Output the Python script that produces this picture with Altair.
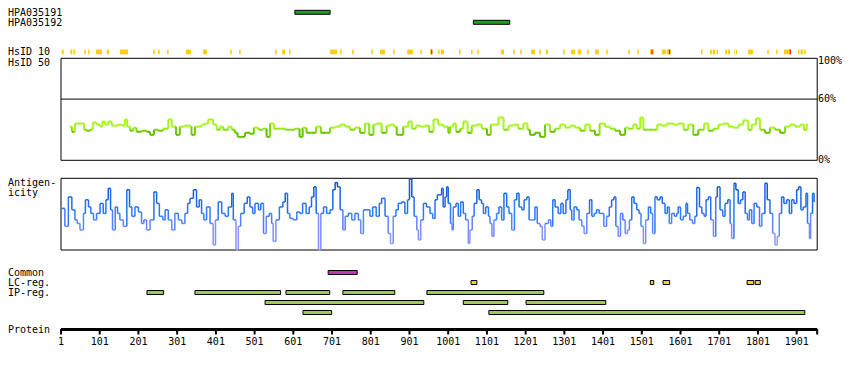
import altair as alt
import pandas as pd

PROTEIN_LEN = 1954
TICKS = list(range(1, 1902, 100))

# antibody antigen regions (residues)
ab_names = ["HPA035191", "HPA035192"]
ab_start = [605, 1066]
ab_end = [696, 1160]

# HsID 10 identity ticks (residues)
h10_y_start = [3, 25, 33, 61, 71, 91, 119, 153, 239, 252,
               275, 324, 368, 438, 461, 554, 572, 590, 696, 722,
               753, 802, 825, 859, 895, 929, 954, 975, 982, 1029,
               1060, 1076, 1137, 1169, 1187, 1215, 1236, 1253, 1298, 1318,
               1336, 1360, 1380, 1409, 1466, 1489, 1522, 1553, 1566, 1654,
               1677, 1684, 1694, 1716, 1723, 1739, 1744, 1775, 1825, 1848,
               1868, 1904, 1911, 1920]
h10_y_end = [8, 30, 37, 65, 75, 107, 125, 174, 243, 256,
             279, 337, 378, 442, 465, 558, 580, 594, 714, 726,
             757, 806, 838, 863, 910, 933, 960, 979, 990, 1033,
             1064, 1080, 1145, 1173, 1191, 1225, 1240, 1259, 1302, 1329,
             1344, 1364, 1390, 1413, 1470, 1493, 1533, 1564, 1576, 1658,
             1682, 1691, 1698, 1721, 1729, 1741, 1747, 1788, 1829, 1852,
             1886, 1908, 1917, 1924]
h10_r_start = [957, 1526, 1571, 1883]
h10_r_end = [960, 1529, 1574, 1886]

# HsID 50 identity (%)
id_pos = [24, 29, 37, 50, 61, 67, 76, 83, 93, 102,
          108, 115, 123, 132, 140, 149, 158, 166, 172, 179,
          188, 196, 209, 222, 231, 241, 252, 265, 278, 287,
          298, 308, 321, 334, 338, 347, 364, 373, 381, 394,
          403, 412, 420, 433, 442, 450, 457, 468, 476, 489,
          499, 511, 523, 532, 541, 551, 567, 580, 592, 605,
          617, 625, 635, 648, 660, 672, 687, 696, 709, 722,
          735, 747, 760, 773, 786, 797, 808, 816, 829, 842,
          852, 861, 868, 876, 885, 898, 907, 918, 928, 941,
          952, 963, 975, 988, 1001,
          1006, 1014, 1021, 1032, 1040, 1051, 1062, 1075, 1088, 1101,
          1111, 1122, 1131, 1144, 1157, 1169, 1182, 1195, 1206, 1212,
          1225, 1238, 1251, 1264, 1277, 1290, 1303, 1316, 1329, 1342,
          1355, 1367, 1380, 1392, 1406, 1419, 1432, 1445, 1458, 1466,
          1479, 1488, 1497, 1505, 1518, 1531, 1541, 1553, 1565, 1583,
          1596, 1609, 1621, 1634, 1647, 1662, 1673, 1686, 1699, 1712,
          1725, 1738, 1751, 1763, 1776, 1785, 1796, 1806, 1819, 1832,
          1845, 1858, 1871, 1884, 1897, 1910, 1920, 1927]
id_val = [33, 28, 36, 36, 30, 29, 30, 37, 35, 33,
          38, 35, 38, 34, 34, 35, 34, 40, 33, 29,
          32, 28, 29, 28, 25, 30, 29, 31, 40, 33,
          25, 33, 34, 33, 25, 33, 35, 36, 40, 35,
          30, 33, 30, 33, 30, 27, 23, 23, 27, 26,
          32, 30, 31, 23, 36, 31, 31, 30, 30, 31,
          23, 32, 27, 27, 33, 27, 27, 32, 33, 35,
          33, 30, 32, 27, 36, 25, 35, 36, 27, 34,
          35, 33, 25, 25, 33, 38, 31, 34, 33, 34,
          28, 40, 35, 33, 27,
          33, 36, 28, 31, 38, 27, 34, 35, 31, 25,
          35, 35, 42, 30, 34, 35, 31, 36, 30, 25,
          27, 23, 35, 28, 31, 35, 32, 34, 32, 29,
          35, 29, 25, 36, 33, 31, 29, 25, 32, 31,
          35, 31, 42, 30, 30, 30, 35, 34, 36, 35,
          36, 30, 35, 25, 30, 36, 29, 31, 35, 36,
          33, 32, 35, 39, 30, 35, 41, 30, 27, 32,
          30, 27, 33, 35, 33, 35, 30, 36]

# Antigenicity (relative score 0-100)
ant_pos = [3, 11, 20, 29, 37, 43, 50, 59, 64, 72,
           78, 85, 93, 102, 110, 117, 123, 129, 134, 141,
           147, 153, 162, 171, 178, 184, 192, 201, 209, 215,
           222, 231, 241, 248, 255, 264, 270, 278, 287, 295,
           304, 313, 321, 328, 334, 343, 351, 358, 364, 370,
           377, 386, 394, 400, 407, 416, 425, 433, 442, 446,
           453, 459, 465, 474, 482, 489, 496, 502, 511, 517,
           524, 531, 539, 545, 549, 556, 565, 574, 580, 586,
           592, 601, 610, 618, 625, 634, 642, 648, 654, 660,
           666, 672, 679, 687, 696, 703, 709, 715, 722, 729,
           735, 743, 752, 760, 769, 775, 782, 791, 799, 806,
           815, 823, 829, 838, 846, 852, 859, 866, 872, 881,
           889, 896, 901, 907, 913, 920, 924, 930, 937, 945,
           954, 961, 967, 973,
           984, 988, 993, 997, 1001, 1007, 1011, 1014, 1021, 1027,
           1033, 1040, 1046, 1053, 1057, 1063, 1068, 1075, 1081, 1087,
           1092, 1098, 1105, 1109, 1114, 1119, 1126, 1132, 1139, 1145,
           1152, 1158, 1165, 1172, 1178, 1184, 1191, 1197, 1204, 1210,
           1217, 1225, 1231, 1238, 1244, 1251, 1260, 1266, 1271, 1277,
           1285, 1292, 1298, 1305, 1310, 1316, 1320, 1326, 1333, 1339,
           1346, 1352, 1359, 1366, 1372, 1378, 1384, 1391, 1397, 1403,
           1410, 1417, 1423, 1429, 1434, 1440, 1446, 1452, 1458, 1464,
           1469, 1475, 1481, 1488, 1494, 1499, 1505, 1511, 1518, 1524,
           1529, 1535, 1541, 1548, 1554, 1561, 1567, 1572, 1578, 1585,
           1591, 1595, 1601, 1608, 1615, 1619, 1625, 1632, 1638, 1643,
           1650, 1656, 1662, 1667, 1673, 1679, 1686, 1692, 1696, 1703,
           1710, 1716, 1723, 1729, 1733, 1739, 1744, 1750, 1756, 1762,
           1768, 1774, 1779, 1785, 1791, 1798, 1805, 1811, 1819, 1825,
           1832, 1839, 1845, 1851, 1856, 1862, 1868, 1875, 1882, 1888,
           1894, 1901, 1906, 1912, 1918, 1925, 1929, 1934, 1937, 1942,
           1946]
ant_val = [58, 33, 74, 56, 42, 37, 28, 51, 70, 60,
           51, 42, 51, 65, 51, 70, 86, 56, 28, 60,
           51, 42, 33, 84, 60, 47, 60, 53, 37, 42,
           28, 42, 81, 65, 47, 42, 56, 42, 28, 51,
           42, 37, 51, 65, 72, 84, 60, 70, 51, 42,
           60, 37, 7, 42, 67, 51, 47, 60, 79, 42,
           0, 33, 51, 65, 74, 60, 51, 65, 56, 65,
           23, 47, 51, 37, 12, 42, 60, 67, 79, 51,
           44, 42, 53, 51, 65, 51, 60, 74, 88, 51,
           0, 51, 60, 51, 56, 84, 94, 88, 56, 28,
           47, 51, 42, 51, 42, 23, 56, 56, 47, 60,
           47, 65, 72, 47, 23, 9, 47, 56, 65, 67,
           51, 70, 99, 74, 47, 28, 14, 42, 65, 60,
           51, 44, 70, 77,
           86, 60, 74, 88, 65, 37, 28, 60, 65, 47,
           67, 51, 42, 9, 28, 47, 65, 84, 70, 65,
           51, 60, 47, 37, 19, 42, 51, 60, 42, 79,
           60, 51, 28, 70, 79, 60, 56, 70, 74, 42,
           42, 60, 37, 33, 14, 37, 42, 33, 70, 60,
           51, 65, 51, 70, 84, 56, 42, 60, 56, 42,
           33, 23, 51, 70, 47, 51, 56, 51, 51, 33,
           47, 60, 70, 74, 33, 19, 51, 42, 23, 28,
           42, 74, 65, 56, 51, 33, 9, 42, 60, 51,
           23, 74, 70, 74, 65, 51, 60, 37, 51, 47,
           51, 60, 42, 47, 65, 51, 42, 37, 47, 87,
           60, 51, 47, 70, 74, 42, 19, 74, 88, 56,
           47, 65, 70, 37, 16, 93, 84, 65, 70, 81,
           51, 42, 56, 37, 65, 60, 33, 51, 93, 70,
           51, 23, 7, 19, 51, 74, 65, 70, 51, 70,
           65, 84, 88, 56, 60, 79, 37, 16, 51, 79,
           67]

# feature tracks: lane 0 = Common, 1 = LC-reg., 2..4 = IP-reg.
feat_kind = ["Common", "LC", "LC", "LC", "LC", "LC",
             "IP", "IP", "IP", "IP", "IP", "IP", "IP", "IP", "IP", "IP"]
feat_lane = [0, 1, 1, 1, 1, 1,
             2, 2, 2, 2, 2, 3, 3, 3, 4, 4]
feat_start = [691, 1060, 1523, 1556, 1773, 1794,
              223, 347, 582, 729, 946, 528, 1040, 1202, 626, 1106]
feat_end = [766, 1075, 1532, 1573, 1790, 1807,
            266, 568, 695, 863, 1248, 938, 1155, 1408, 700, 1922]

FONT = "DejaVu Sans Mono"
FS = 10
xs = alt.Scale(domain=[1, PROTEIN_LEN], range=[53, 809.2])
frame_df = pd.DataFrame({"a": [1], "b": [PROTEIN_LEN], "lo": [0], "hi": [100], "mid": [60]})


def step_segments(pos, val):
    rows = []
    for i in range(len(pos) - 1):
        rows.append(dict(x=pos[i], x2=pos[i + 1], y=val[i], y2=val[i], c=val[i]))
        rows.append(dict(x=pos[i + 1], x2=pos[i + 1], y=val[i], y2=val[i + 1],
                         c=(val[i] + val[i + 1]) / 2))
    return pd.DataFrame(rows)


layers = []

# left labels
labels = [("HPA035191", 5), ("HPA035192", 15), ("HsID 10", 44), ("HsID 50", 54.5),
          ("Antigen-", 175), ("icity", 185), ("Common", 264.5), ("LC-reg.", 274.5),
          ("IP-reg.", 284.5), ("Protein", 321.5)]
for name, yy in labels:
    layers.append(
        alt.Chart(pd.DataFrame({"t": [name]})).mark_text(
            align="left", baseline="middle", font=FONT, fontSize=FS, color="black"
        ).encode(x=alt.value(0), y=alt.value(yy), text="t:N")
    )

# antibody bars
ab_df = pd.DataFrame({"name": ab_names, "lane": [0, 1], "start": ab_start, "end": ab_end})
layers.append(
    alt.Chart(ab_df).transform_calculate(lo="datum.lane - 0.2", hi="datum.lane + 0.2")
    .mark_rect(fill="#1ea01e", stroke="black", strokeWidth=1)
    .encode(
        x=alt.X("start:Q", scale=xs, axis=None), x2="end:Q",
        y=alt.Y("lo:Q", scale=alt.Scale(domain=[0, 1], range=[4.3, 14.3]), axis=None), y2="hi:Q",
    )
)

# HsID 10 ticks
h10_df = pd.DataFrame({
    "start": h10_y_start + h10_r_start,
    "end": h10_y_end + h10_r_end,
    "kind": ["partial"] * len(h10_y_start) + ["full"] * len(h10_r_start),
})
layers.append(
    alt.Chart(h10_df).mark_rect().encode(
        x=alt.X("start:Q", scale=xs, axis=None), x2="end:Q",
        y=alt.value(41.5), y2=alt.value(46.3),
        color=alt.Color("kind:N", scale=alt.Scale(domain=["partial", "full"], range=["#ffcc1a", "#e81200"]), legend=None),
    )
)

# HsID 50 panel
p50 = alt.Scale(domain=[0, 100], range=[152.3, 50.3])
layers.append(
    alt.Chart(frame_df).mark_rect(fillOpacity=0, stroke="black", strokeWidth=1).encode(
        x=alt.X("a:Q", scale=xs, axis=None), x2="b:Q",
        y=alt.Y("lo:Q", scale=p50, axis=None), y2="hi:Q")
)
layers.append(
    alt.Chart(frame_df).mark_rule(color="black", strokeWidth=1).encode(
        x=alt.X("a:Q", scale=xs, axis=None), x2="b:Q",
        y=alt.Y("mid:Q", scale=p50, axis=None))
)
layers.append(
    alt.Chart(step_segments(id_pos, id_val)).mark_rule(strokeWidth=2).encode(
        x=alt.X("x:Q", scale=xs, axis=None), x2="x2:Q",
        y=alt.Y("y:Q", scale=p50, axis=None), y2="y2:Q",
        color=alt.Color("c:Q", scale=alt.Scale(domain=[28, 32], range=["#62bf00", "#a6f51c"], clamp=True), legend=None),
    )
)
pct_df = pd.DataFrame({"v": [60, 0], "t": ["60%", "0%"]})
layers.append(
    alt.Chart(pct_df).mark_text(align="left", baseline="middle", font=FONT, fontSize=FS, color="black").encode(
        x=alt.value(810), y=alt.Y("v:Q", scale=p50, axis=None), text="t:N")
)
layers.append(
    alt.Chart(pd.DataFrame({"v": [100], "t": ["100%"]})).mark_text(
        align="left", baseline="middle", font=FONT, fontSize=FS, color="black", dy=3).encode(
        x=alt.value(810), y=alt.Y("v:Q", scale=p50, axis=None), text="t:N")
)

# Antigenicity panel
pag = alt.Scale(domain=[0, 100], range=[242, 170.3])
layers.append(
    alt.Chart(frame_df).mark_rect(fillOpacity=0, stroke="black", strokeWidth=1).encode(
        x=alt.X("a:Q", scale=xs, axis=None), x2="b:Q",
        y=alt.Y("lo:Q", scale=pag, axis=None), y2="hi:Q")
)
layers.append(
    alt.Chart(step_segments(ant_pos, ant_val)).mark_rule(strokeWidth=1.5).encode(
        x=alt.X("x:Q", scale=xs, axis=None), x2="x2:Q",
        y=alt.Y("y:Q", scale=pag, axis=None), y2="y2:Q",
        color=alt.Color("c:Q", scale=alt.Scale(domain=[10, 50, 95], range=["#9a9cff", "#2b7cff", "#0052c4"], clamp=True), legend=None),
    )
)

# feature tracks
feat_df = pd.DataFrame({"kind": feat_kind, "lane": feat_lane, "start": feat_start, "end": feat_end})
layers.append(
    alt.Chart(feat_df).transform_calculate(lo="datum.lane - 0.2", hi="datum.lane + 0.2")
    .mark_rect(stroke="black", strokeWidth=1)
    .encode(
        x=alt.X("start:Q", scale=xs, axis=None), x2="end:Q",
        y=alt.Y("lo:Q", scale=alt.Scale(domain=[0, 4], range=[264.5, 304.5]), axis=None), y2="hi:Q",
        color=alt.Color("kind:N", scale=alt.Scale(domain=["Common", "LC", "IP"], range=["#c832b4", "#f0d22d", "#9dc85a"]), legend=None),
    )
)

# protein axis
layers.append(
    alt.Chart(frame_df).mark_rule(color="black", strokeWidth=3).encode(
        x=alt.X("a:Q", scale=xs, axis=None), x2="b:Q", y=alt.value(321.5))
)
tick_df = pd.DataFrame({"p": TICKS + [PROTEIN_LEN]})
layers.append(
    alt.Chart(tick_df).mark_rule(color="black", strokeWidth=2).encode(
        x=alt.X("p:Q", scale=xs, axis=None), y=alt.value(321), y2=alt.value(326.5))
)
lab_df = pd.DataFrame({"p": TICKS, "t": [str(t) for t in TICKS]})
layers.append(
    alt.Chart(lab_df).mark_text(align="center", baseline="middle", font=FONT, fontSize=FS, color="black").encode(
        x=alt.X("p:Q", scale=xs, axis=None), y=alt.value(334), text="t:N")
)

chart = (
    alt.layer(*layers)
    .resolve_scale(y="independent", color="independent")
    .properties(width=834, height=354, padding=0, autosize=alt.AutoSizeParams(type="none"))
    .configure_view(strokeWidth=0)
)

chart.save("out.html", embed_options={"renderer": "svg", "actions": False})
